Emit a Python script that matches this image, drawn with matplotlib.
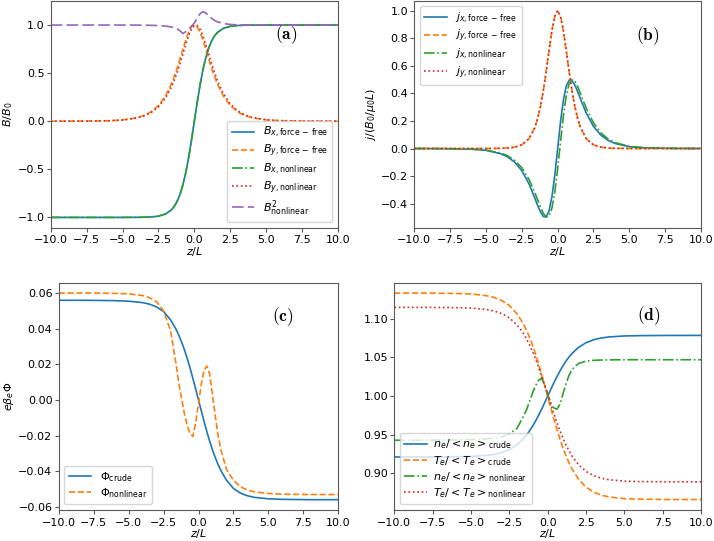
import matplotlib
matplotlib.use('Agg')
import matplotlib.pyplot as plt

# --- Data ---
z = [-10, -8, -6, -5, -4, -3.5, -3, -2.5, -2, -1.6, -1.4, -1.2, -1, -0.8, -0.6, -0.4, -0.2, 0,
     0.2, 0.4, 0.6, 0.8, 1, 1.2, 1.4, 1.6, 2, 2.5, 3, 3.5, 4, 5, 6, 8, 10]

# panel (a): magnetic field
bx_ff = [-1.0, -1.0, -1.0, -1.0, -0.999, -0.998, -0.995, -0.987, -0.964, -0.922, -0.885, -0.834,
         -0.762, -0.664, -0.537, -0.380, -0.197, 0.0, 0.197, 0.380, 0.537, 0.664, 0.762, 0.834,
         0.885, 0.922, 0.964, 0.987, 0.995, 0.998, 0.999, 1.0, 1.0, 1.0, 1.0]
by_ff = [0.0, 0.001, 0.005, 0.013, 0.037, 0.060, 0.099, 0.163, 0.266, 0.388, 0.465, 0.552,
         0.648, 0.748, 0.844, 0.925, 0.980, 1.0, 0.980, 0.925, 0.844, 0.748, 0.648, 0.552,
         0.465, 0.388, 0.266, 0.163, 0.099, 0.060, 0.037, 0.013, 0.005, 0.001, 0.0]
bx_nl = [-1.0, -1.0, -1.0, -1.0, -0.999, -0.998, -0.995, -0.987, -0.964, -0.922, -0.885, -0.834,
         -0.762, -0.664, -0.537, -0.380, -0.197, 0.0, 0.197, 0.380, 0.537, 0.664, 0.762, 0.834,
         0.885, 0.922, 0.964, 0.987, 0.995, 0.998, 0.999, 1.0, 1.0, 1.0, 1.0]
by_nl = [0.0, 0.001, 0.004, 0.012, 0.033, 0.055, 0.090, 0.148, 0.243, 0.354, 0.425, 0.507,
         0.599, 0.698, 0.797, 0.887, 0.957, 0.995, 0.995, 0.957, 0.887, 0.797, 0.698, 0.599,
         0.507, 0.425, 0.293, 0.180, 0.110, 0.067, 0.040, 0.015, 0.006, 0.001, 0.0]
b2_nl = [1.0, 1.0, 1.0, 1.0, 0.999, 0.998, 0.997, 0.994, 0.989, 0.980, 0.972, 0.960,
         0.940, 0.912, 0.930, 0.955, 0.988, 1.020, 1.070, 1.118, 1.140, 1.125, 1.097, 1.070,
         1.048, 1.034, 1.016, 1.006, 1.002, 1.0, 1.0, 1.0, 1.0, 1.0, 1.0]

# panel (b): current density
jx_ff = [0.0, -0.001, -0.005, -0.013, -0.037, -0.060, -0.099, -0.161, -0.256, -0.358, -0.412, -0.460,
         -0.494, -0.496, -0.453, -0.351, -0.194, 0.0, 0.194, 0.351, 0.453, 0.496, 0.494, 0.460,
         0.412, 0.358, 0.256, 0.161, 0.099, 0.060, 0.037, 0.013, 0.005, 0.001, 0.0]
jy_ff = [0.0, 0.0, 0.0, 0.0002, 0.0013, 0.0036, 0.0099, 0.0266, 0.0707, 0.1505, 0.2161, 0.3049,
         0.4200, 0.5591, 0.7117, 0.8556, 0.9610, 1.0, 0.9610, 0.8556, 0.7117, 0.5591, 0.4200, 0.3049,
         0.2161, 0.1505, 0.0707, 0.0266, 0.0099, 0.0036, 0.0013, 0.0002, 0.0, 0.0, 0.0]
jx_nl = [0.0, -0.001, -0.004, -0.012, -0.032, -0.052, -0.086, -0.139, -0.224, -0.318, -0.371, -0.425,
         -0.471, -0.498, -0.491, -0.433, -0.317, -0.147, 0.050, 0.237, 0.383, 0.469, 0.500, 0.488,
         0.449, 0.396, 0.291, 0.186, 0.115, 0.070, 0.043, 0.016, 0.006, 0.001, 0.0]
jy_nl = [0.0, 0.0, 0.0, 0.0002, 0.0013, 0.0036, 0.0099, 0.0266, 0.0707, 0.1505, 0.2161, 0.3049,
         0.4200, 0.5591, 0.7117, 0.8556, 0.9610, 1.0, 0.9610, 0.8556, 0.7117, 0.5591, 0.4200, 0.3049,
         0.2161, 0.1505, 0.0707, 0.0266, 0.0099, 0.0036, 0.0013, 0.0002, 0.0, 0.0, 0.0]

# panel (c): electrostatic potential
phi_crude = [0.0561, 0.0561, 0.0559, 0.0556, 0.0548, 0.0539, 0.0524, 0.0498, 0.0451, 0.0397, 0.0363, 0.0324,
             0.0281, 0.0232, 0.0179, 0.0121, 0.0061, 0.0, -0.0061, -0.0121, -0.0179, -0.0232, -0.0281, -0.0324,
             -0.0363, -0.0397, -0.0451, -0.0498, -0.0524, -0.0539, -0.0548, -0.0556, -0.0559, -0.0561, -0.0561]
phi_nl = [0.0602, 0.0602, 0.0600, 0.0597, 0.0588, 0.0576, 0.0553, 0.0502, 0.0390, 0.0200, 0.0090, 0.0005,
          -0.0080, -0.0145, -0.0190, -0.0205, -0.0125, -0.0020, 0.0090, 0.0168, 0.0191, 0.0145, 0.0030, -0.0090,
          -0.0200, -0.0280, -0.0390, -0.0452, -0.0488, -0.0507, -0.0517, -0.0526, -0.0530, -0.0532, -0.0532]

# panel (d): density and temperature
n_crude = [0.9210, 0.9210, 0.9213, 0.9217, 0.9230, 0.9243, 0.9266, 0.9305, 0.9367, 0.9442, 0.9488, 0.9542,
           0.9604, 0.9672, 0.9747, 0.9827, 0.9911, 0.9998, 1.0084, 1.0168, 1.0248, 1.0323, 1.0391, 1.0453,
           1.0507, 1.0553, 1.0628, 1.0690, 1.0729, 1.0752, 1.0765, 1.0778, 1.0782, 1.0785, 1.0785]
t_crude = [1.1333, 1.1333, 1.1329, 1.1322, 1.1300, 1.1277, 1.1238, 1.1173, 1.1066, 1.0940, 1.0861, 1.0769,
           1.0665, 1.0549, 1.0422, 1.0285, 1.0143, 0.9996, 0.9849, 0.9707, 0.9570, 0.9443, 0.9327, 0.9223,
           0.9131, 0.9052, 0.8926, 0.8819, 0.8754, 0.8715, 0.8692, 0.8670, 0.8663, 0.8659, 0.8659]
n_nl = [0.9427, 0.9427, 0.9430, 0.9435, 0.9445, 0.9455, 0.9470, 0.9510, 0.9580, 0.9730, 0.9810, 0.9920,
        1.0030, 1.0130, 1.0200, 1.0230, 1.0150, 1.0030, 0.9910, 0.9845, 0.9830, 0.9890, 1.0030, 1.0160,
        1.0270, 1.0345, 1.0420, 1.0452, 1.0462, 1.0466, 1.0468, 1.0470, 1.0470, 1.0470, 1.0470]
t_nl = [1.1148, 1.1148, 1.1145, 1.1139, 1.1121, 1.1101, 1.1068, 1.1013, 1.0923, 1.0816, 1.0749, 1.0672,
        1.0584, 1.0485, 1.0378, 1.0263, 1.0142, 1.0018, 0.9894, 0.9773, 0.9658, 0.9551, 0.9452, 0.9364,
        0.9287, 0.9220, 0.9113, 0.9023, 0.8968, 0.8935, 0.8915, 0.8897, 0.8891, 0.8888, 0.8888]

FS = 8
plt.rcParams['font.size'] = FS
plt.rcParams['axes.linewidth'] = 0.8
plt.rcParams['axes.edgecolor'] = '0.35'
plt.rcParams['xtick.color'] = '0.35'
plt.rcParams['ytick.color'] = '0.35'
plt.rcParams['xtick.labelcolor'] = 'black'
plt.rcParams['ytick.labelcolor'] = 'black'
plt.rcParams['xtick.major.size'] = 3
plt.rcParams['ytick.major.size'] = 3
plt.rcParams['xtick.major.pad'] = 2.4
plt.rcParams['ytick.major.pad'] = 1.5
plt.rcParams['legend.labelspacing'] = 0.22
LW = 1.2

fig = plt.figure(figsize=(7.14, 5.41), dpi=100)
W, H = 714.0, 541.0


def make_axes(x0, x1, y0, y1):
    # pixel box -> figure fraction
    return fig.add_axes([x0 / W, 1 - y1 / H, (x1 - x0) / W, (y1 - y0) / H])


ax_a = make_axes(50.7, 338.0, 0.5, 227.7)
ax_b = make_axes(414.3, 701.0, 0.5, 227.7)
ax_c = make_axes(58.7, 338.3, 282.7, 510.0)
ax_d = make_axes(394.3, 701.0, 282.7, 510.0)

# (a)
ax_a.plot(z, bx_ff, '-', color='C0', lw=LW, label=r'$B_{x, \rm force\,-\,free}$')
ax_a.plot(z, by_ff, '--', color='C1', lw=LW, label=r'$B_{y, \rm force\,-\,free}$')
ax_a.plot(z, bx_nl, '-.', color='C2', lw=LW, label=r'$B_{x, \rm nonlinear}$')
ax_a.plot(z, by_nl, ':', color='C3', lw=LW, label=r'$B_{y, \rm nonlinear}$')
ax_a.plot(z, b2_nl, color='C4', lw=LW, dashes=(7, 2.5), label=r'$B^2_{\rm nonlinear}$')
ax_a.set_ylim(-1.107, 1.255)
ax_a.set_ylabel(r'$B/B_0$', labelpad=2)
ax_a.legend(loc='lower right', fontsize=FS)

# (b)
ax_b.plot(z, jx_ff, '-', color='C0', lw=LW, label=r'$j_{x, \rm force\,-\,free}$')
ax_b.plot(z, jy_ff, '--', color='C1', lw=LW, label=r'$j_{y, \rm force\,-\,free}$')
ax_b.plot(z, jx_nl, '-.', color='C2', lw=LW, label=r'$j_{x, \rm nonlinear}$')
ax_b.plot(z, jy_nl, ':', color='C3', lw=LW, label=r'$j_{y, \rm nonlinear}$')
ax_b.set_ylim(-0.575, 1.075)
ax_b.set_ylabel(r'$j/(B_0/\mu_0L)$', labelpad=2)
ax_b.legend(loc='upper left', fontsize=FS)

# (c)
ax_c.plot(z, phi_crude, '-', color='C0', lw=LW, label=r'$\Phi_{\rm crude}$')
ax_c.plot(z, phi_nl, '--', color='C1', lw=LW, label=r'$\Phi_{\rm nonlinear}$')
ax_c.set_ylim(-0.0619, 0.0660)
ax_c.set_ylabel(r'$e\beta_e\Phi$', labelpad=2)
ax_c.legend(loc='lower left', fontsize=FS)

# (d)
ax_d.plot(z, n_crude, '-', color='C0', lw=LW, label=r'$n_e/<n_e>_{\rm crude}$')
ax_d.plot(z, t_crude, '--', color='C1', lw=LW, label=r'$T_e/<T_e>_{\rm crude}$')
ax_d.plot(z, n_nl, '-.', color='C2', lw=LW, label=r'$n_e/<n_e>_{\rm nonlinear}$')
ax_d.plot(z, t_nl, ':', color='C3', lw=LW, label=r'$T_e/<T_e>_{\rm nonlinear}$')
ax_d.set_ylim(0.8523, 1.1468)
ax_d.set_yticks([0.90, 0.95, 1.00, 1.05, 1.10])
ax_d.legend(loc='lower left', fontsize=FS, handletextpad=0.6)

panel_pos = [(ax_a, 0.819, 0.849, '(a)'), (ax_b, 0.815, 0.845, '(b)'),
             (ax_c, 0.803, 0.852, '(c)'), (ax_d, 0.830, 0.854, '(d)')]
for ax, px, py, tag in panel_pos:
    ax.set_xlim(-10, 10)
    ax.set_xlabel(r'$z/L$', labelpad=0)
    ax.text(px, py, r'$\mathbf{' + tag + '}$', transform=ax.transAxes, fontsize=12.5,
            math_fontfamily='cm', ha='center', va='center')

fig.savefig('out.png', dpi=100)
